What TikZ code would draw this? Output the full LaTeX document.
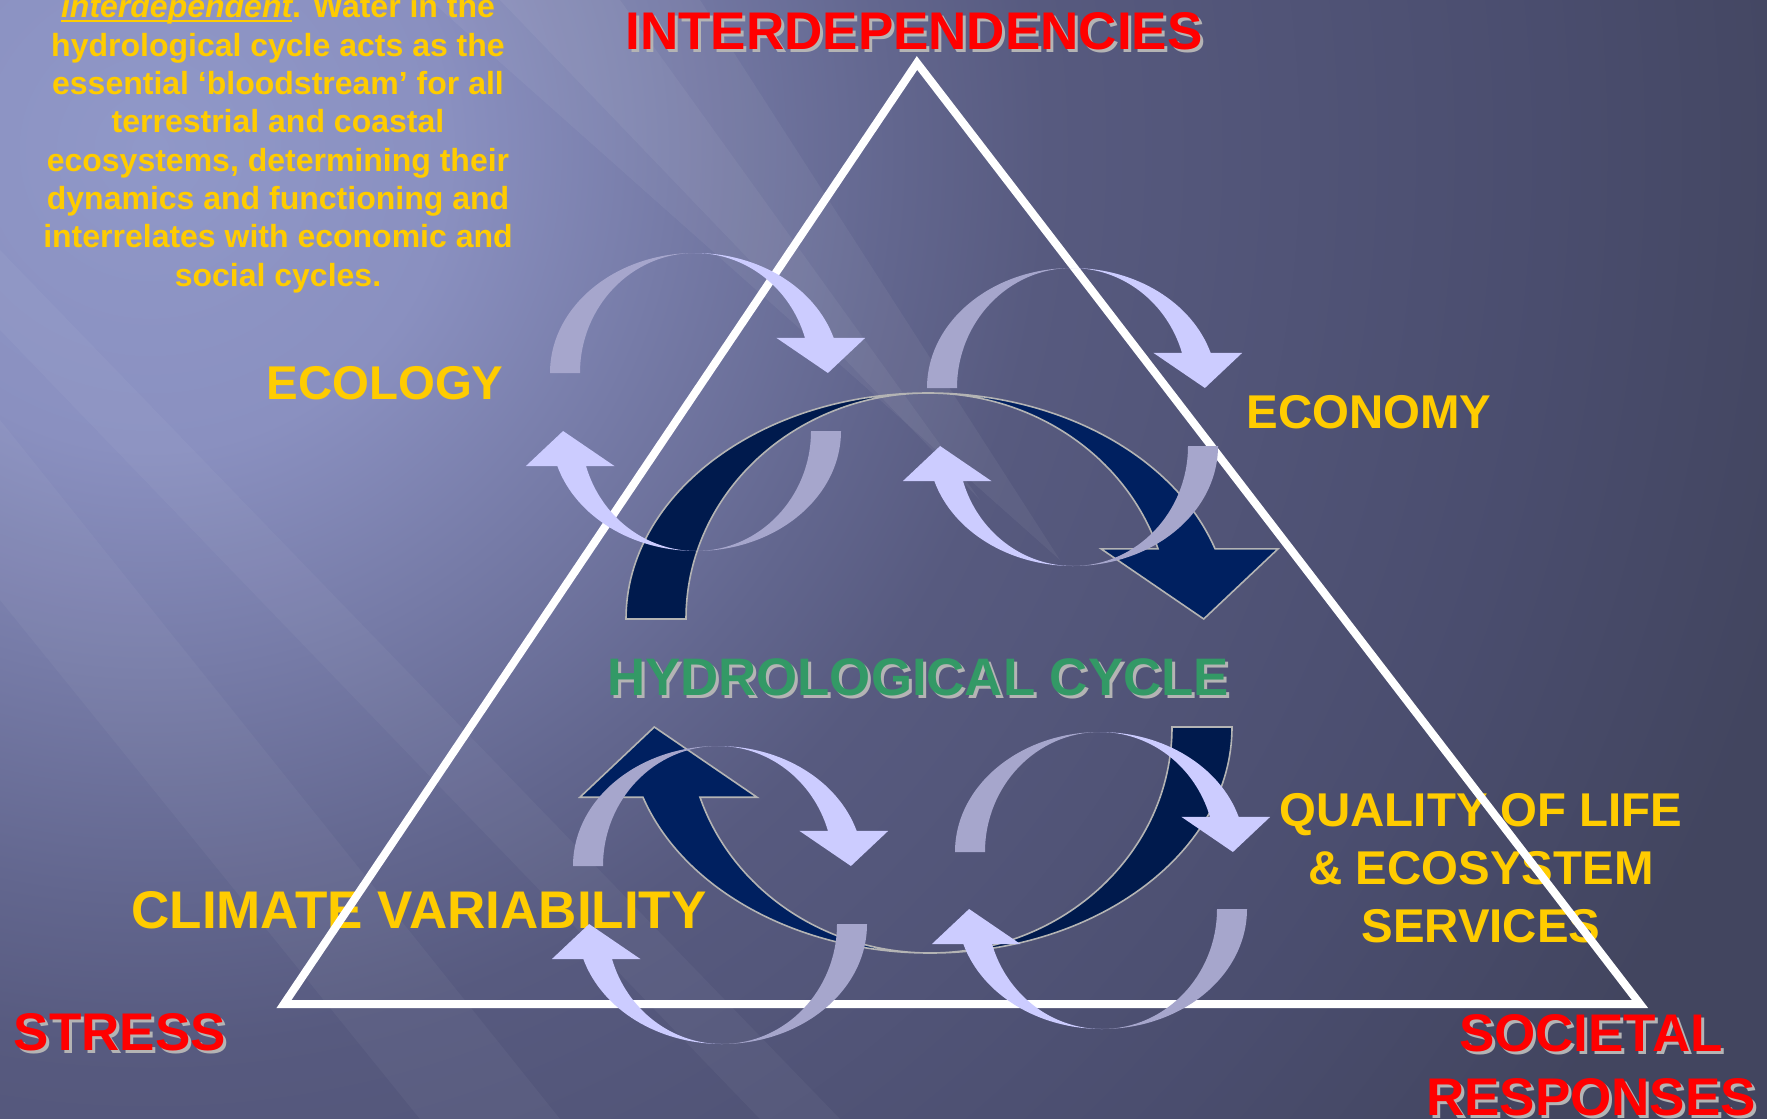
\documentclass[tikz,border=0pt]{standalone}
\usepackage{fontspec}
\setmainfont{Liberation Sans}

\definecolor{bglight}{HTML}{9098C8}
\definecolor{bglight2}{HTML}{8A90C0}
\definecolor{bgmid}{HTML}{62668E}
\definecolor{bgmid2}{HTML}{575A7F}
\definecolor{bgdark}{HTML}{4A4D6E}
\definecolor{bgdeep}{HTML}{42455F}
\definecolor{labelyellow}{HTML}{FFCC00}
\definecolor{labelred}{HTML}{FF0000}
\definecolor{labelgreen}{HTML}{339966}
\definecolor{shadowgray}{HTML}{B4B4B4}
\definecolor{navyback}{HTML}{001A4D}
\definecolor{navyfront}{HTML}{002060}
\definecolor{lilacback}{HTML}{A6A6CC}
\definecolor{lilacfront}{HTML}{CCCCFF}

\pgfdeclareradialshading{bgglow}{\pgfpoint{0bp}{0bp}}{color(0bp)=(bglight); color(4.4bp)=(bglight2);
  color(11bp)=(bgmid); color(13.2bp)=(bgmid2); color(20.6bp)=(bgdark); color(25bp)=(bgdeep); color(50bp)=(bgdeep)}

\newcommand{\pptunderline}[1]{\setbox0\hbox{#1}\rlap{\rule[-2pt]{\wd0}{1pt}}\box0}

% a bent arrow: outer x radius, width, y radius, back colour, front colour
\tikzset{
  pics/bentarrow/.style n args={5}{code={
    \pgfmathsetmacro\ra{#1}
    \pgfmathsetmacro\rb{#1-#2}
    \pgfmathsetmacro\rr{#3}
    \pgfmathsetmacro\hh{1.17*#2}
    \pgfmathsetmacro\angh{360-asin(\hh/\rr)}
    \pgfmathsetmacro\xout{\ra*cos(\angh)}
    \pgfmathsetmacro\xin{\rb*cos(\angh)}
    \pgfmathsetmacro\bout{\xout+1.05*#2}
    \pgfmathsetmacro\bin{\xin-0.95*#2}
    \pgfmathsetmacro\tipx{\bin+0.58*(\bout-\bin)}
    \path[fill=#4, pic actions] (-\ra,0)
      arc[start angle=180, end angle=270, x radius=\ra, y radius=\rr]
      arc[start angle=270, end angle=180, x radius=\rb, y radius=\rr] -- cycle;
    \path[fill=#5, pic actions] (0,-\rr)
      arc[start angle=270, end angle=\angh, x radius=\ra, y radius=\rr]
      -- (\bout,-\hh) -- (\tipx,0) -- (\bin,-\hh) -- (\xin,-\hh)
      arc[start angle=\angh, end angle=270, x radius=\rb, y radius=\rr] -- cycle;
  }}
}

\begin{document}
\begin{tikzpicture}[x=0.5pt, y=-0.5pt,
  bigred/.style={font=\bfseries\fontsize{26.5pt}{32pt}\selectfont, text=labelred, inner sep=0pt, anchor=base, align=center},
  bigyellow/.style={font=\bfseries\fontsize{23.7pt}{29pt}\selectfont, text=labelyellow, inner sep=0pt, anchor=base, align=center},
  biggreen/.style={font=\bfseries\fontsize{26.4pt}{32pt}\selectfont, text=labelgreen, inner sep=0pt, anchor=base},
  shadow/.style={text=shadowgray}]
\useasboundingbox (0,0) rectangle (1767,1119);
\clip (0,0) rectangle (1767,1119);
% background
\fill[bgdeep] (0,0) rectangle (1767,1119);
\shade[shading=bgglow] (150,150) circle (1700);
\fill[white, opacity=0.05] (430,0) -- (700,0) -- (1060,560) -- cycle;
\fill[white, opacity=0.05] (500,0) -- (620,0) -- (980,500) -- cycle;
\fill[white, opacity=0.04] (0,420) -- (0,600) -- (420,1119) -- (560,1119) -- cycle;
\fill[white, opacity=0.04] (0,250) -- (0,330) -- (760,1119) -- (840,1119) -- cycle;

% texts
\node[font=\bfseries\fontsize{16pt}{19.15pt}\selectfont, text=labelyellow, inner sep=0pt, anchor=base, align=center] (blurb) at (278,286)
  {\pptunderline{\itshape interdependent}. Water in the\\
   hydrological cycle acts as the\\
   essential ‘bloodstream’ for all\\
   terrestrial and coastal\\
   ecosystems, determining their\\
   dynamics and functioning and\\
   interrelates with economic and\\
   social cycles.};
\node[bigred, shadow] (interdepsh) at (917,52) {INTERDEPENDENCIES};
\node[bigred] (interdep) at (914,49) {INTERDEPENDENCIES};
\node[bigred, shadow] (stresssh) at (123,1053) {STRESS};
\node[bigred] (stress) at (120,1050) {STRESS};
\node[bigred, shadow] (societalsh) at (1594,1118) {SOCIETAL\\RESPONSES};
\node[bigred] (societal) at (1591,1115) {SOCIETAL\\RESPONSES};
\node[biggreen, shadow] (hydrosh) at (921,698) {HYDROLOGICAL CYCLE};
\node[biggreen] (hydro) at (918,695) {HYDROLOGICAL CYCLE};
\node[bigyellow] (ecology) at (385,399) {ECOLOGY};
\node[bigyellow] (economy) at (1369,428) {ECONOMY};
\node[bigyellow] (quality) at (1481,942) {QUALITY OF LIFE\\\& ECOSYSTEM\\SERVICES};
\node[bigyellow, font=\bfseries\fontsize{26.5pt}{32pt}\selectfont] (climate) at (419,928) {CLIMATE VARIABILITY};

% triangle
\coordinate (apex) at (917,63);
\coordinate (stresscorner) at (284,1004);
\coordinate (responsecorner) at (1640,1004);
\draw[white, line width=4pt, line join=miter] (apex) -- (stresscorner) -- (responsecorner) -- cycle;

% dark arrows
\pic[draw=shadowgray, line width=0.8pt] at (928,619) {bentarrow={302}{60}{226}{navyback}{navyfront}};
\pic[draw=shadowgray, line width=0.8pt, rotate=180] at (930,727) {bentarrow={302}{60}{226}{navyback}{navyfront}};

% light arrows
\pic at (695,373) {bentarrow={145}{30}{120}{lilacback}{lilacfront}};
\pic[rotate=180] at (696,431) {bentarrow={145}{30}{120}{lilacback}{lilacfront}};
\pic at (1072,388) {bentarrow={145}{30}{120}{lilacback}{lilacfront}};
\pic[rotate=180] at (1073,446) {bentarrow={145}{30}{120}{lilacback}{lilacfront}};
\pic at (718,866) {bentarrow={145}{30}{120}{lilacback}{lilacfront}};
\pic[rotate=180] at (722,924) {bentarrow={145}{30}{120}{lilacback}{lilacfront}};
\pic at (1100,852) {bentarrow={145}{30}{120}{lilacback}{lilacfront}};
\pic[rotate=180] at (1102,909) {bentarrow={145}{30}{120}{lilacback}{lilacfront}};
\end{tikzpicture}
\end{document}
